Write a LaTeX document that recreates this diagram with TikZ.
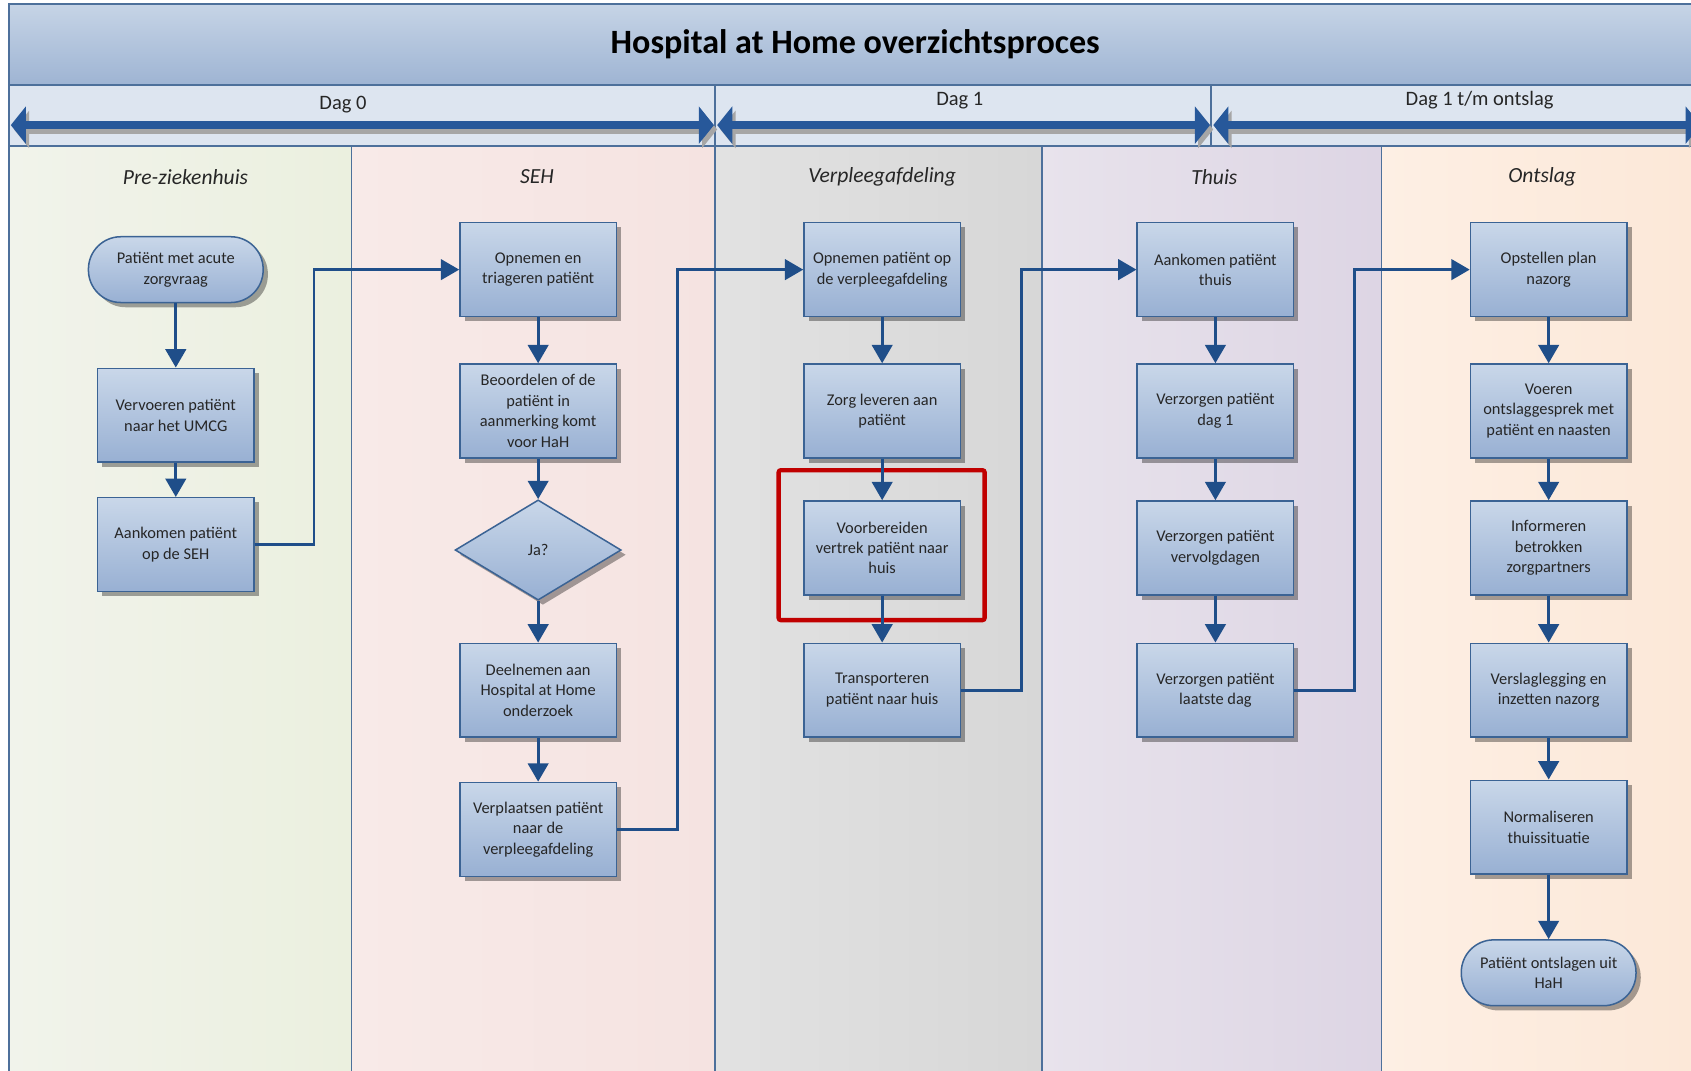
\documentclass[tikz,border=0pt]{standalone}
\usepackage{fontspec}
\setmainfont{Carlito}
\usetikzlibrary{arrows.meta,shapes.geometric,shadows}
\definecolor{boxtop}{HTML}{C9D7E9}
\definecolor{boxbot}{HTML}{98B0D3}
\definecolor{boxline}{HTML}{3B6394}
\definecolor{flowc}{HTML}{1F4E89}
\definecolor{txt}{HTML}{262626}
\definecolor{framec}{HTML}{4D709B}
\definecolor{titletop}{HTML}{C6D4E6}
\definecolor{titlebot}{HTML}{9EB4D3}
\definecolor{dayband}{HTML}{DDE5F0}
\definecolor{dayarr}{HTML}{27589A}
\definecolor{redc}{HTML}{C00000}
\definecolor{gA}{HTML}{F1F3EB}\definecolor{gB}{HTML}{EBF0DF}
\definecolor{pA}{HTML}{F8EAE8}\definecolor{pB}{HTML}{F5E3E1}
\definecolor{hA}{HTML}{E2E2E2}\definecolor{hB}{HTML}{D7D7D7}
\definecolor{lA}{HTML}{E8E3EC}\definecolor{lB}{HTML}{DDD5E4}
\definecolor{oA}{HTML}{FDEFE4}\definecolor{oB}{HTML}{FCE8D8}
\begin{document}
\begin{tikzpicture}[x=0.5pt,y=-0.5pt,
  proc/.style={rectangle, draw=boxline, line width=0.7pt, top color=boxtop, bottom color=boxbot,
    minimum width=72.5pt, minimum height=43.5pt, align=center, text=txt, inner sep=1pt,
    font=\fontsize{7.6}{9.5}\selectfont,
    drop shadow={shadow xshift=2.2pt, shadow yshift=-2.2pt, fill=black, opacity=0.35}},
  term/.style={proc, minimum width=81pt, minimum height=30.5pt, rounded corners=15pt},
  decis/.style={diamond, draw=boxline, line width=0.7pt, top color=boxtop, bottom color=boxbot,
    minimum width=77pt, minimum height=46.5pt, inner sep=0pt, text=txt, aspect=1.66,
    font=\fontsize{7.6}{9.5}\selectfont,
    drop shadow={shadow xshift=2.2pt, shadow yshift=-2.2pt, fill=black, opacity=0.35}},
  flow/.style={draw=flowc, line width=1.3pt, -{Triangle[length=8.5pt,width=9.5pt]}},
  lanehead/.style={font=\fontsize{10}{12}\selectfont\itshape, text=txt},
  daylabel/.style={font=\fontsize{9.5}{11}\selectfont, text=txt},
  dayarrow/.style={line width=4pt, {Triangle[length=7pt,width=17pt]}-{Triangle[length=7pt,width=17pt]}},
  frameline/.style={draw=framec, line width=0.9pt},
  laneline/.style={draw=framec, line width=0.8pt}
]
\useasboundingbox (0,0) rectangle (1568,993);
\fill[white] (0,0) rectangle (1568,993);

% lanes
\shade[left color=gA, right color=gB] (8,135) rectangle (326,993);
\shade[left color=pA, right color=pB] (326,135) rectangle (663,993);
\shade[left color=hA, right color=hB] (663,135) rectangle (966,993);
\shade[left color=lA, right color=lB] (966,135) rectangle (1281,993);
\shade[left color=oA, right color=oB] (1281,135) rectangle (1568,993);

% title band
\shade[top color=titletop, bottom color=titlebot] (8,4) rectangle (1568,79);
\fill[dayband] (8,79) rectangle (1568,135);
\draw[frameline] (1568,4) -- (8,4) -- (8,993);
\draw[frameline] (8,79) -- (1568,79);
\draw[frameline] (8,135) -- (1568,135);
\draw[laneline] (663,79) -- (663,135);
\draw[laneline] (1123,79) -- (1123,135);
\foreach \xx in {326,663,966,1281} \draw[laneline] (\xx,135) -- (\xx,993);

\node[font=\fontsize{15.8}{18}\selectfont\bfseries, text=black] (title) at (793,41) {Hospital at Home overzichtsproces};

% day arrows
\draw[dayarrow, draw=black!35, fill=black!35] (13,120) -- (665,120);
\draw[dayarrow, draw=black!35, fill=black!35] (668,120) -- (1125,120);
\draw[dayarrow, draw=black!35, fill=black!35] (1128,120) -- (1580,120);
\draw[dayarrow, draw=dayarr, fill=dayarr] (10,116) -- (662,116);
\draw[dayarrow, draw=dayarr, fill=dayarr] (665,116) -- (1122,116);
\draw[dayarrow, draw=dayarr, fill=dayarr] (1125,116) -- (1577,116);
\node[daylabel] (d0) at (318,97) {Dag 0};
\node[daylabel] (d1) at (890,93) {Dag 1};
\node[daylabel] (d2) at (1372,93) {Dag 1 t/m ontslag};

% lane headers
\node[lanehead] (h1) at (172,164) {Pre-ziekenhuis};
\node[lanehead] (h2) at (498,164) {SEH};
\node[lanehead] (h3) at (818,164) {Verpleegafdeling};
\node[lanehead] (h4) at (1126,164) {Thuis};
\node[lanehead] (h5) at (1430,164) {Ontslag};

% column 1
\node[term] (a1) at (163,250) {Patiënt met acute\\zorgvraag};
\node[proc] (a2) at (163,385) {Vervoeren patiënt\\naar het UMCG};
\node[proc] (a3) at (163,505) {Aankomen patiënt\\op de SEH};
% column 2
\node[proc] (b1) at (499,250) {Opnemen en\\triageren patiënt};
\node[proc] (b2) at (499,381) {Beoordelen of de\\patiënt in\\aanmerking komt\\voor HaH};
\node[decis] (b3) at (499,510) {Ja?};
\node[proc] (b4) at (499,640) {Deelnemen aan\\Hospital at Home\\onderzoek};
\node[proc] (b5) at (499,769) {Verplaatsen patiënt\\naar de\\verpleegafdeling};
% column 3
\node[proc] (c1) at (818,250) {Opnemen patiënt op\\de verpleegafdeling};
\node[proc] (c2) at (818,381) {Zorg leveren aan\\patiënt};
\node[proc] (c3) at (818,508) {Voorbereiden\\vertrek patiënt naar\\huis};
\node[proc] (c4) at (818,640) {Transporteren\\patiënt naar huis};
% column 4
\node[proc] (e1) at (1127,250) {Aankomen patiënt\\thuis};
\node[proc] (e2) at (1127,381) {Verzorgen patiënt\\dag 1};
\node[proc] (e3) at (1127,508) {Verzorgen patiënt\\vervolgdagen};
\node[proc] (e4) at (1127,640) {Verzorgen patiënt\\laatste dag};
% column 5
\node[proc] (f1) at (1436,250) {Opstellen plan\\nazorg};
\node[proc] (f2) at (1436,381) {Voeren\\ontslaggesprek met\\patiënt en naasten};
\node[proc] (f3) at (1436,508) {Informeren\\betrokken\\zorgpartners};
\node[proc] (f4) at (1436,640) {Verslaglegging en\\inzetten nazorg};
\node[proc] (f5) at (1436,767) {Normaliseren\\thuissituatie};
\node[term] (f6) at (1436,902) {Patiënt ontslagen uit\\HaH};

% red highlight
\draw[draw=redc, line width=2pt, rounded corners=1pt] (722,436) rectangle (913,575);

% connectors
\draw[flow] (a1.south) -- (a2.north);
\draw[flow] (a2.south) -- (a3.north);
\draw[flow] (a3.east) -- ++(55,0) |- (b1.west);
\draw[flow] (b1.south) -- (b2.north);
\draw[flow] (b2.south) -- (b3.north);
\draw[flow] (b3.south) -- (b4.north);
\draw[flow] (b4.south) -- (b5.north);
\draw[flow] (b5.east) -- ++(56,0) |- (c1.west);
\draw[flow] (c1.south) -- (c2.north);
\draw[flow] (c2.south) -- (c3.north);
\draw[flow] (c3.south) -- (c4.north);
\draw[flow] (c4.east) -- ++(56,0) |- (e1.west);
\draw[flow] (e1.south) -- (e2.north);
\draw[flow] (e2.south) -- (e3.north);
\draw[flow] (e3.south) -- (e4.north);
\draw[flow] (e4.east) -- ++(56,0) |- (f1.west);
\draw[flow] (f1.south) -- (f2.north);
\draw[flow] (f2.south) -- (f3.north);
\draw[flow] (f3.south) -- (f4.north);
\draw[flow] (f4.south) -- (f5.north);
\draw[flow] (f5.south) -- (f6.north);
\end{tikzpicture}
\end{document}
